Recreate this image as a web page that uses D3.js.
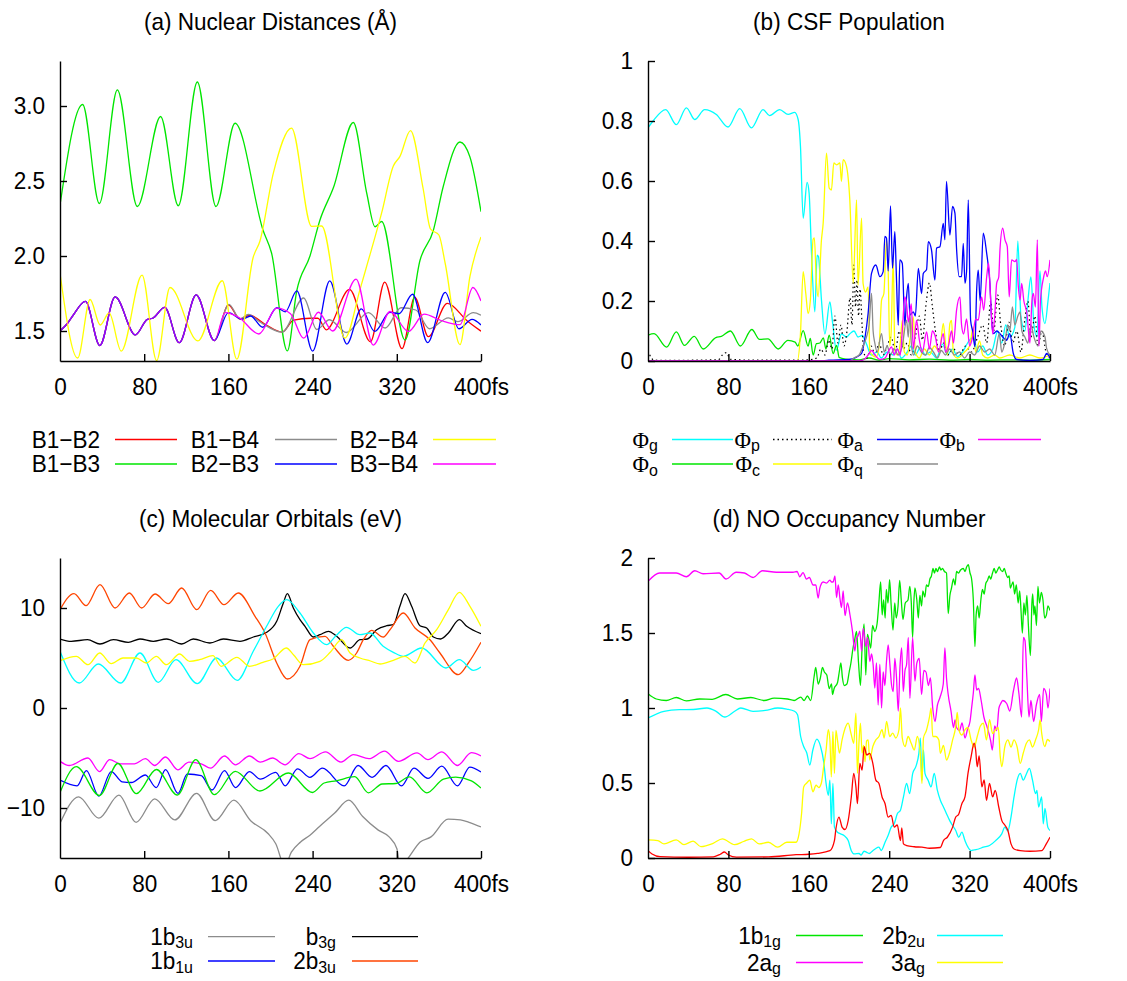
<!DOCTYPE html>
<html>
<head>
<meta charset="utf-8">
<script src="https://cdn.jsdelivr.net/npm/d3@7"></script>
<style>
  html, body { margin: 0; padding: 0; background: #ffffff; }
  svg { display: block; }
  text { font-family: "Liberation Sans", Arial, Helvetica, sans-serif; fill: #000; }
</style>
</head>
<body>
<script>
// ---------- shared axis data ----------
const timeTicks = [0, 80, 160, 240, 320, 400];

// ---------- (a) Nuclear distances, Angstrom ----------
const distTicks = [1.5, 2.0, 2.5, 3.0];
// B1-B2, B1-B4, B2-B3 and B3-B4 coincide during the first ~150 fs
const distCommon = [[0,1.5],[7,1.55],[12,1.6],[24.2,1.697],[37.8,1.403],[52.4,1.727],[71.6,1.474],[83,1.578],[88,1.585],[99.5,1.657],[113.3,1.422],[129.4,1.741],[146.6,1.436]];
const b1b2 = distCommon.concat([[160,1.675],[171,1.58],[180,1.605],[196,1.54],[211,1.493],[222,1.572],[238,1.585],[245,1.585],[253,1.508],[275,1.777],[295,1.428],[308.5,1.826],[325,1.382],[337,1.725],[350,1.462],[368,1.684],[387,1.567],[400,1.499]]);
const b1b4 = distCommon.concat([[160.5,1.678],[171,1.58],[179,1.61],[190,1.56],[211,1.492],[231.5,1.72],[244,1.51],[256,1.575],[272,1.49],[293,1.622],[309,1.52],[324,1.655],[338,1.64],[351,1.515],[369,1.587],[378,1.562],[392.7,1.622],[400,1.605]]);
const b2b3 = distCommon.concat([[160,1.622],[173,1.578],[181,1.6],[192.6,1.525],[206,1.655],[214,1.628],[225,1.767],[240,1.366],[256.3,1.834],[272.5,1.413],[286.3,1.648],[299,1.497],[313.5,1.625],[322,1.615],[335,1.745],[349.3,1.422],[366,1.757],[379,1.515],[391.5,1.578],[400,1.54]]);
const b3b4 = distCommon.concat([[157,1.622],[170,1.59],[189,1.48],[206,1.652],[219,1.615],[231.5,1.452],[245.5,1.625],[259,1.5],[281.3,1.846],[297.7,1.406],[313.7,1.63],[331,1.497],[346,1.612],[362,1.57],[380,1.542],[392.3,1.79],[400,1.7]]);
const b1b3 = [[0,2.34],[21.5,3.01],[37.4,2.35],[54.5,3.107],[73.5,2.33],[95.6,2.93],[112.4,2.335],[130.5,3.16],[148.2,2.33],[166.3,2.885],[193,2.17],[201,2.02],[216,1.367],[225,1.77],[237.5,2.0],[247,2.24],[260,2.46],[278.7,2.89],[291.4,2.42],[299.3,2.195],[305.6,2.23],[327.8,1.44],[342,1.97],[354.7,2.17],[364,2.46],[380,2.76],[389.5,2.66],[400,2.295]];
const b2b4 = [[0,1.885],[16.8,1.32],[28.6,1.71],[38.2,1.54],[46.7,1.62],[58.2,1.366],[78,1.873],[91.8,1.303],[104.5,1.79],[131,1.434],[154.2,1.835],[168,1.312],[183.5,1.99],[190,2.1],[202.7,2.553],[220,2.853],[239,2.198],[248.6,2.2],[270.7,1.453],[285,1.776],[291.3,1.93],[305.6,2.287],[316.7,2.6],[323,2.664],[333,2.836],[345,2.45],[352,2.18],[360,2.14],[366,1.95],[380,1.409],[389.5,1.864],[400,2.127]];

// ---------- (b) CSF population ----------
const popTicks = [0, 0.2, 0.4, 0.6, 0.8, 1];
const phiG = [[0,0.777],[5,0.8],[17.6,0.838],[28.2,0.788],[38.2,0.844],[46.5,0.805],[56.4,0.838],[68,0.822],[79.7,0.78],[91.3,0.841],[102.9,0.777],[114.5,0.838],[121,0.818],[131,0.838],[139.4,0.822],[146,0.829],[149.4,0.805],[151.7,0.716],[154.4,0.476],[158.3,0.595],[160.3,0.56],[162.7,0.36],[166,0.164],[168.3,0.353],[169.6,0.348],[172.6,0.203],[176,0.09],[181,0.197],[183.6,0.13],[187.5,0.036],[192.5,0.09],[197.5,0.08],[200.6,0.09],[205,0.1],[209,0.08],[213,0.085],[217.5,0.056],[222,0.02],[228,0.03],[232,0.01],[238,0.03],[244,0.02],[248,0.04],[252,0.01],[258,0.03],[262,0.05],[266,0.02],[271,0.045],[276,0.02],[281,0.03],[287,0.01],[293,0.056],[298,0.02],[303,0.04],[308,0.015],[313,0.03],[318,0.06],[323.7,0.08],[328,0.03],[333,0.05],[338,0.02],[343,0.04],[348,0.1],[352,0.06],[356,0.12],[360,0.08],[365,0.112],[368,0.4],[371,0.15],[375,0.1],[378,0.2],[381,0.28],[384,0.12],[387,0.08],[390,0.3],[392,0.18],[395,0.125],[398,0.2],[400,0.26]];
const phiO = [[0,0.086],[6,0.091],[18.5,0.046],[28.2,0.097],[36.3,0.052],[46,0.082],[55,0.04],[67.5,0.078],[73,0.082],[82,0.1],[92,0.05],[103.3,0.105],[111,0.072],[119.3,0.074],[129.6,0.04],[139.2,0.069],[146.4,0.063],[149,0.05],[154.4,0.101],[159.3,0.05],[161.5,0.075],[164.3,0.02],[167.6,0.058],[171,0.06],[174.5,0.077],[177,0.04],[180.3,0.086],[184.2,0.025],[187.6,0.052],[190.2,0.012],[194,0.008],[200,0.005],[210,0.004],[220,0.01],[230,0.003],[240,0.008],[260,0.004],[280,0.006],[300,0.003],[320,0.005],[340,0.003],[360,0.004],[380,0.003],[400,0.005]];
const phiP = [[0,0.035],[3,0.012],[6,0.003],[20,0.002],[50,0.003],[70,0.004],[74,0.02],[78,0.028],[82,0.006],[100,0.003],[150,0.003],[160,0.004],[168,0.01],[172,0.04],[176,0.02],[180,0.07],[183,0.04],[186,0.15],[189,0.06],[192,0.12],[195,0.05],[198,0.1],[201,0.21],[203,0.12],[204.8,0.32],[206.5,0.18],[208,0.27],[209.5,0.15],[211,0.24],[213,0.12],[214.5,0.03],[218,0.01],[222,0.05],[226,0.02],[230,0.06],[234,0.02],[238,0.05],[242,0.08],[246,0.03],[250,0.1],[254,0.04],[258,0.06],[262,0.02],[266,0.08],[270,0.15],[273,0.07],[277,0.2],[280,0.26],[283,0.18],[286,0.1],[290,0.03],[294,0.06],[298,0.02],[304,0.04],[310,0.02],[316,0.05],[322,0.03],[328,0.08],[333,0.12],[337,0.06],[341,0.2],[344,0.1],[348,0.22],[351,0.12],[355,0.05],[359,0.13],[363,0.06],[367,0.1],[371,0.03],[375,0.14],[378,0.2],[381,0.08],[385,0.15],[388,0.05],[392,0.1],[396,0.03],[400,0.01]];
const phiC = [[0,0],[148.4,0],[151.7,0.091],[154.4,0.298],[157,0.225],[159.3,0.158],[161.5,0.2],[164.3,0.406],[165.5,0.41],[167.6,0.259],[169.3,0.214],[172.6,0.404],[174.3,0.459],[177.6,0.693],[180.3,0.576],[182.5,0.57],[184.9,0.66],[187.6,0.654],[190.9,0.66],[192.5,0.599],[194.2,0.671],[197.5,0.649],[200.8,0.537],[204.2,0.259],[207.5,0.537],[209,0.253],[212.5,0.476],[214,0.259],[216.5,0.23],[219,0.247],[220.7,0.036],[223,0.02],[227,0.013],[230,0.05],[232.4,0.203],[234.7,0.225],[237.3,0.404],[239,0.3],[240.5,0.05],[242,0.1],[244,0.337],[245.6,0.036],[248,0.02],[251,0.06],[253,0.135],[255,0.03],[258,0.02],[261,0.08],[264,0.147],[266,0.03],[270,0.01],[275,0.04],[280,0.02],[285,0.05],[290,0.03],[293.8,0.125],[296,0.06],[298,0.02],[300.4,0.125],[302,0.135],[304,0.02],[308,0.01],[315,0.03],[320,0.05],[323.7,0.114],[326,0.03],[330,0.067],[333,0.02],[338,0.01],[345,0.02],[350,0.01],[360,0.02],[370,0.01],[380,0.02],[390,0.01],[400,0.02]];
const phiA = [[0,0],[170,0],[180,0.003],[200,0.005],[207.5,0.013],[212.5,0.025],[216,0.08],[219,0.158],[222.4,0.292],[226.7,0.32],[230.7,0.281],[234,0.298],[235.7,0.415],[237.3,0.41],[239,0.3],[241.3,0.517],[243.3,0.309],[245.6,0.431],[247,0.3],[249,0.119],[250.6,0.337],[253,0.326],[255.6,0.119],[257.3,0.214],[259,0.259],[260.6,0.153],[264,0.164],[266,0.15],[269,0.309],[272.2,0.225],[273.9,0.292],[277.2,0.305],[278.9,0.398],[282,0.372],[285.5,0.27],[287.1,0.376],[290.5,0.381],[293.8,0.459],[295.4,0.404],[297,0.599],[300.4,0.42],[303,0.515],[305.4,0.493],[307,0.376],[309.7,0.281],[312,0.281],[313.7,0.392],[315.4,0.259],[317,0.3],[318.7,0.537],[321,0.136],[323,0.1],[325.3,0.047],[327,0.236],[328.6,0.303],[330.5,0.2],[333.6,0.426],[337,0.359],[338.5,0.32],[340.2,0.259],[341.9,0.136],[343.6,0.091],[347,0.1],[350.2,0.091],[353,0.08],[356.8,0.069],[360,0.091],[363.5,0.025],[366.8,0.005],[380,0.002],[393,0.005],[396.7,0.025],[400,0.01]];
const phiQ = [[0,0],[200,0],[205,0.01],[210,0.02],[214,0.05],[217.4,0.08],[220,0.12],[222.4,0.225],[224,0.1],[225.7,0.06],[228,0.03],[232.4,0.091],[235,0.03],[238,0.05],[241,0.02],[245,0.04],[249,0.02],[253,0.05],[257.3,0.136],[259,0.08],[260.6,0.158],[262,0.06],[264,0.02],[268,0.05],[272,0.03],[276,0.02],[280,0.045],[284,0.03],[288,0.01],[292,0.035],[296,0.02],[300,0.04],[305,0.02],[310,0.03],[315,0.01],[320,0.03],[325,0.02],[330,0.05],[335,0.03],[340,0.04],[345,0.02],[349.6,0.091],[352,0.03],[355,0.06],[358,0.12],[360,0.1],[362.6,0.18],[365,0.12],[368,0.15],[370.2,0.164],[372,0.1],[375,0.08],[378,0.06],[381,0.12],[384,0.08],[388,0.05],[391,0.1],[395,0.08],[396.7,0.041],[400,0.02]];
const phiB = [[0,0],[210,0],[215,0.005],[219,0.02],[222.4,0.035],[226,0.02],[230.7,0.005],[236,0.01],[239,0.03],[242.3,0.047],[245,0.02],[248,0.04],[251,0.02],[253,0.1],[255.6,0.214],[257.3,0.19],[259,0.13],[262,0.19],[264,0.04],[267.2,0.136],[270,0.07],[273,0.03],[277.2,0.097],[280,0.04],[283,0.1],[286,0.08],[289,0.03],[293.8,0.091],[296,0.03],[299,0.05],[302,0.1],[304,0.06],[307,0.169],[310.4,0.214],[312,0.12],[314,0.09],[317,0.14],[320,0.05],[323,0.08],[326,0.14],[328.6,0.136],[332,0.214],[334,0.17],[337,0.281],[338.9,0.326],[341,0.2],[343,0.09],[345,0.15],[346.9,0.259],[349,0.28],[350.2,0.37],[352.9,0.443],[355.2,0.404],[357.5,0.381],[359.4,0.214],[361.8,0.337],[365.1,0.331],[366.8,0.339],[368.5,0.247],[370.2,0.203],[371.8,0.259],[374,0.2],[377,0.16],[380,0.06],[382,0.2],[383.4,0.225],[385.5,0.18],[387.4,0.404],[389,0.05],[390.5,0.2],[393.4,0.275],[395.5,0.3],[397.3,0.281],[400,0.337]];

// ---------- (c) Molecular orbital energies, eV ----------
const moTicks = [-10, 0, 10];
const mo1b3u = [[0,-11.53],[17.7,-8.88],[36.9,-11.02],[56,-8.71],[72.3,-11.43],[90,-9.08],[109.1,-11.19],[129.8,-8.54],[147.5,-11.26],[165.2,-9.22],[181.4,-11.3],[197.6,-12.55],[205,-13.57],[213.6,-15.8],[219.8,-14.42],[228.6,-13.4],[237.5,-12.72],[246.3,-11.87],[261,-10.51],[274.3,-9.22],[287.6,-10.85],[302.4,-12.21],[312.7,-12.89],[320.1,-14.08],[323.5,-16],[330.9,-15],[342.2,-13.4],[352.5,-12.89],[368.7,-11.12],[380.5,-11.19],[389.4,-11.46],[400,-11.9]];
const mo1b1u = [[0,-7.21],[16.2,-7.79],[25.1,-6.26],[36.9,-8.81],[48.7,-6.36],[59,-7.38],[67.8,-7.45],[81.1,-6.7],[91.4,-7.96],[100.3,-6.16],[112.1,-8.54],[121,-6.6],[134.2,-6.77],[144.5,-8.2],[156.3,-6.26],[166.7,-7.96],[180,-6.36],[190.3,-7.11],[205,-6.43],[213.9,-7.79],[225.7,-6.09],[237.5,-6.94],[249.3,-6.02],[270,-7.79],[283.2,-5.75],[296.5,-6.94],[309.7,-5.75],[324.5,-7.79],[336.3,-6.02],[349.6,-7.04],[362.8,-5.82],[377.6,-7.79],[389.4,-5.92],[400,-6.4]];
const moB3g = [[0,6.9],[10.7,6.67],[26.2,6.83],[38,6.4],[50.7,6.83],[64.9,6.57],[76,6.9],[88.6,6.67],[101.3,6.9],[115.6,6.4],[126.7,6.9],[142.5,6.5],[155.2,6.9],[171,6.67],[183.7,7.1],[196.4,7.57],[205.9,8.67],[212.2,10.5],[216,11.43],[221.7,10],[228,8.83],[232.8,8.17],[240.7,7.1],[247,7.33],[255,7.67],[262.9,7.17],[275.6,6],[285,6.83],[292,6.9],[300.8,7.83],[310.3,8.23],[316.7,8.33],[323,10.2],[327.8,11.43],[334.1,10.17],[342,8.23],[348.4,8],[354.7,7.1],[361.6,6.9],[369,7.5],[379.4,8.83],[386.4,8.17],[400,7.43]];
const mo2b3u = [[0,9.83],[13.3,11.43],[24.7,10.23],[38,12.33],[52.3,10],[65.9,11.5],[77.6,10],[90.3,11.4],[102.9,10.43],[115.6,12],[129.9,9.83],[143.2,11.76],[155.8,10.33],[169.4,11.5],[185.3,9.17],[194.8,7.5],[205.9,4.5],[216,2.9],[228,4.17],[237.5,6.83],[251.8,7.17],[259.7,6.17],[273.9,4.77],[281.8,5.5],[288.2,6.83],[296.1,7.77],[307.2,7.1],[313.5,7.83],[326.2,9.5],[337.3,8],[351.5,6.83],[361,5.5],[378.4,3.33],[388,4.5],[400,6.57]];
const moCyan = [[0,5.67],[18.3,2.5],[36.4,4.4],[57.6,2.5],[76,5.5],[93.4,2.57],[110.2,4.83],[130.4,2.43],[148.8,5],[168.4,2.77],[183.6,5.67],[196.3,8.17],[207.4,10.17],[215.3,10.83],[228,9.5],[240.7,7.5],[253.4,6.33],[262,7.2],[272.2,8.07],[284.9,7.33],[294.4,7.5],[307,6.17],[316.7,5.57],[326.2,5.17],[343.6,6],[366.7,4],[379.4,4.83],[392.7,3.77],[400,4.1]];
const moYellow = [[0,4.73],[15.5,5.17],[26.6,4.33],[37.7,5.5],[48.8,4.43],[59.8,5],[72.5,5],[82,4.5],[91.5,5.17],[101,4.33],[113.6,5.4],[123.1,4.67],[132.6,4.83],[145.3,5.23],[153.2,4.17],[168.1,5.07],[180.1,4.17],[192.8,4.57],[202.3,4.9],[215,6],[222,5.3],[231.2,4.33],[247,4.67],[257,5.6],[267.6,6.83],[275.6,5.5],[285,5],[295,4.7],[304.1,4.4],[316.7,4.77],[327.8,5.17],[337.3,4.5],[346.8,6.5],[357.9,7.83],[369,9.83],[379.4,11.57],[389.5,10.17],[400,8.17]];
const moMagenta = [[0,-5.34],[8.8,-5.75],[26.5,-5],[37.5,-6.36],[47.2,-5.17],[57.5,-5.58],[70.8,-5.58],[81.1,-5.07],[90,-5.75],[100.3,-4.9],[112,-6.19],[122.4,-5.41],[134.2,-5.58],[143,-6.02],[156.3,-4.8],[166.7,-5.68],[180,-4.8],[190.3,-5.41],[202,-5],[213.9,-5.68],[227,-4.56],[237.5,-5.07],[252.2,-4.39],[267,-5.41],[278.8,-4.66],[293.5,-5.07],[308.3,-4.32],[321.5,-5.34],[339.2,-4.49],[349.6,-5.17],[362.8,-4.39],[377.6,-5.75],[390.9,-4.46],[400,-4.8]];
const moGreen = [[0,-8.45],[15.5,-5.87],[37.5,-8.75],[55,-5.55],[72.5,-8.57],[91.6,-6.15],[111.5,-8.7],[129,-5.17],[146.7,-8.67],[166.5,-6.33],[190,-8.3],[217,-6.5],[239.8,-8.45],[251,-7.5],[262.5,-7.28],[280,-6.87],[293,-8.48],[306,-7.6],[319,-7.55],[332,-6.88],[348.6,-8.48],[364.3,-7.11],[376,-6.92],[390.9,-7.28],[400,-8]];

// ---------- (d) Natural orbital occupancy ----------
const occTicks = [0, 0.5, 1, 1.5, 2];
const no1b1g = [[0,1.095],[8.3,1.06],[18.2,1.05],[28.2,1.07],[38.2,1.047],[51.4,1.06],[64,1.058],[77.4,1.09],[89,1.06],[102.3,1.07],[115.6,1.05],[125.5,1.066],[138.8,1.06],[145.4,1.05],[152,1.073],[155.3,1.05],[158.6,1.08],[161.9,1.05],[165.3,1.21],[166.9,1.27],[169.3,1.16],[171.5,1.2],[173.6,1.27],[175.5,1.24],[177.9,1.22],[180.3,1.13],[182.6,1.16],[183.6,1.09],[185.2,1.13],[188.6,1.17],[190.3,1.24],[191.9,1.3],[193.5,1.2],[195.2,1.15],[197.9,1.16],[200.2,1.24],[201.9,1.3],[204,1.4],[205.5,1.45],[207.5,1.51],[209.5,1.3],[211.4,1.15],[213,1.4],[215,1.56],[216.7,1.22],[218.3,1.49],[220,1.45],[221.6,1.4],[223.5,1.55],[225.6,1.51],[227.9,1.56],[229.6,1.69],[231.5,1.84],[233,1.62],[234.4,1.72],[236,1.6],[237.1,1.79],[238.8,1.7],[240.4,1.855],[242,1.68],[243.8,1.52],[245.5,1.7],[247,1.6],[248.8,1.68],[250.4,1.85],[252,1.72],[253.7,1.59],[256,1.7],[258.7,1.72],[260.5,1.81],[262,1.7],[263.3,1.47],[264.5,1.7],[265.6,1.8],[267.5,1.72],[269,1.6],[270.5,1.75],[272.2,1.68],[273.5,1.78],[275.5,1.74],[277,1.82],[278.9,1.81],[280.5,1.86],[282,1.88],[283.6,1.93],[285,1.9],[286.5,1.93],[288,1.91],[290,1.94],[291.5,1.92],[293,1.93],[295,1.91],[297,1.9],[298.7,1.63],[300.4,1.75],[302,1.8],[304,1.86],[305.5,1.82],[307,1.91],[309,1.9],[311,1.92],[313.7,1.93],[315.5,1.91],[317,1.94],[318.7,1.955],[320.4,1.9],[322,1.86],[323.7,1.72],[325.3,1.41],[326.5,1.62],[328,1.68],[329.5,1.6],[331.2,1.72],[332.8,1.79],[334.5,1.76],[336.1,1.83],[337.8,1.85],[339.5,1.88],[341,1.86],[342.8,1.9],[344.5,1.93],[346,1.9],[347.8,1.92],[349.5,1.94],[351,1.92],[352.8,1.91],[354.5,1.93],[356,1.9],[357.8,1.87],[359.4,1.88],[360.5,1.8],[361.8,1.82],[363.3,1.84],[364.8,1.76],[366.5,1.82],[368.3,1.7],[369.8,1.78],[371,1.67],[372.5,1.5],[374,1.7],[375.5,1.62],[377,1.75],[378.5,1.55],[380.5,1.35],[382,1.7],[382.8,1.76],[384,1.62],[385,1.68],[386.5,1.55],[388,1.81],[389.5,1.7],[391.4,1.77],[393,1.72],[394.7,1.6],[396.4,1.62],[398,1.68],[400,1.65]];
const no2ag = [[0,1.844],[11.6,1.9],[28.2,1.9],[38.2,1.875],[46.5,1.915],[54.8,1.895],[70.8,1.9],[77.7,1.86],[87.7,1.905],[96,1.9],[104.5,1.87],[113.8,1.915],[127.7,1.905],[144.3,1.905],[148.3,1.91],[151,1.875],[154.3,1.903],[157.6,1.86],[160.5,1.87],[164.3,1.82],[167,1.82],[169.3,1.733],[171,1.8],[174.3,1.84],[177.6,1.833],[181,1.853],[182.5,1.84],[184.2,1.84],[186,1.88],[187.6,1.736],[189.3,1.82],[191,1.73],[192.5,1.67],[194.2,1.78],[196,1.616],[198.5,1.7],[201,1.62],[203.5,1.509],[205.8,1.38],[207.5,1.467],[209,1.48],[210.8,1.513],[212.5,1.38],[214.2,1.53],[216.8,1.41],[218.5,1.47],[220.7,1.31],[222.5,1.36],[224,1.29],[225.7,1.133],[227.3,1.3],[229,1.02],[230.7,1.29],[232.4,1.0],[234,1.24],[235.7,1.15],[237.3,1.31],[239,1.42],[240.7,1.29],[242.4,1.15],[244,1.11],[245.6,1.33],[247.3,1.2],[249,0.98],[250.7,1.27],[252.4,1.4],[254,1.11],[255.7,1.25],[257.3,1.29],[259,1.47],[260.6,1.065],[263.3,1.47],[265.6,1.18],[267.5,1.3],[269.9,1.33],[272.2,1.09],[274.5,1.25],[276.6,1.24],[279,1.15],[281,1.2],[283.3,1.0],[285.6,0.91],[288,1.02],[290.5,1.07],[293.8,1.16],[295.4,1.4],[297,1.2],[298.7,1.09],[301.5,0.98],[304,0.87],[305.5,0.92],[307,0.87],[310,0.85],[312.5,0.9],[315.4,0.8],[318,0.86],[320.4,0.91],[322,1.0],[323.7,1.1],[325.3,1.22],[327,1.12],[328.9,1.13],[331.5,1.05],[334.2,0.94],[337.6,0.87],[341,0.78],[342.6,0.72],[345,0.88],[347,0.85],[349.2,1.0],[351,1.03],[353,1.05],[356.9,1.03],[360,0.98],[363.5,1.11],[366.8,1.2],[369,1.1],[371.8,0.94],[373.5,1.47],[375.1,1.45],[377,1.2],[379.1,0.94],[381,1.05],[383.7,0.91],[386.4,1.02],[389.7,1.09],[391.4,0.91],[393.7,1.13],[396.4,1.09],[398,1.0],[400,1.13]];
const no2b2u = [[0,0.933],[15.9,0.978],[31.2,0.989],[45,0.99],[58.7,1.0],[67.8,0.978],[76.4,0.94],[86.2,0.978],[92.3,1.0],[104.5,0.978],[116.7,0.984],[129,1.0],[138,0.993],[145.8,0.978],[148.8,0.955],[151.9,0.81],[154.9,0.743],[158,0.7],[161,0.62],[164,0.72],[168,0.792],[171.7,0.743],[174.8,0.642],[177.2,0.497],[179.4,0.418],[181,0.519],[182.4,0.228],[184,0.497],[185.5,0.206],[188.5,0.172],[191.6,0.161],[195,0.15],[199.2,0.116],[202.3,0.049],[205.3,0.027],[210,0.03],[212,0.02],[215,0.045],[217.6,0.038],[220,0.03],[223.7,0.049],[226,0.06],[229.8,0.072],[232,0.05],[235.9,0.105],[238.9,0.15],[242,0.206],[245,0.228],[248.1,0.295],[251.2,0.318],[254.2,0.407],[257.3,0.497],[260.3,0.43],[263.4,0.564],[266.5,0.609],[269.5,0.698],[271,0.799],[272.6,0.519],[274.1,0.72],[275.6,0.564],[278.7,0.519],[281.7,0.474],[284.8,0.564],[287.9,0.452],[290.9,0.385],[294,0.34],[297,0.295],[300.1,0.251],[303.1,0.217],[306.2,0.183],[309.2,0.139],[312.3,0.172],[315.4,0.116],[318.4,0.072],[321.5,0.049],[324.5,0.054],[329,0.06],[333.7,0.072],[339.8,0.083],[345.9,0.116],[352,0.161],[355.1,0.206],[358,0.18],[361.2,0.273],[364.2,0.407],[367.3,0.519],[370.4,0.564],[373.4,0.519],[376.5,0.56],[379.5,0.597],[382.6,0.519],[385.6,0.43],[387,0.45],[388.7,0.34],[391.7,0.407],[393.3,0.228],[395,0.33],[397.8,0.206],[400,0.183]];
const no3ag = [[0,0.121],[9.8,0.116],[15.9,0.094],[28.1,0.121],[35.8,0.089],[44.9,0.112],[52.6,0.076],[64.8,0.098],[74,0.128],[86.2,0.089],[95,0.11],[103,0.128],[110.6,0.094],[119.8,0.105],[129,0.072],[138.1,0.105],[147.3,0.105],[150.3,0.161],[152.8,0.295],[154.9,0.474],[158,0.5],[161,0.519],[164.1,0.441],[167.2,0.485],[170,0.47],[172.5,0.5],[174.8,0.609],[177.2,0.72],[179.4,0.855],[181,0.787],[182.4,0.541],[184,0.843],[185.5,0.564],[187,0.85],[188.5,0.787],[190.5,0.7],[193.1,0.787],[196.2,0.866],[199.2,0.899],[202,0.83],[204.7,0.765],[206.9,0.966],[208.4,0.564],[210,0.78],[211.4,0.899],[213,0.7],[214.5,0.75],[216,0.642],[217.5,0.78],[219.1,0.787],[220.6,0.653],[223.7,0.743],[226.7,0.787],[229.8,0.81],[232.9,0.855],[235,0.8],[237.4,0.91],[240.5,0.81],[243.5,0.832],[246.5,0.8],[249.7,0.855],[251.2,1.0],[253,0.8],[255.8,0.743],[258.8,0.81],[261.9,0.765],[265,0.72],[268,0.81],[271,0.687],[272.6,0.497],[274.1,0.8],[277,0.85],[280.2,0.944],[281.7,1.0],[283.3,0.81],[286.4,0.81],[289.4,0.787],[290.9,0.698],[294,0.75],[297,0.653],[300,0.7],[303.1,0.787],[306.2,0.877],[307.7,0.97],[309.5,0.85],[312.3,0.82],[315.4,0.855],[318.4,0.87],[321.5,0.787],[324.5,0.74],[327.6,0.81],[330.7,0.88],[333.7,0.899],[336.8,0.787],[339.8,0.922],[342.9,0.83],[345.9,0.855],[348.5,0.87],[350.5,0.676],[352,0.609],[355,0.74],[358.1,0.787],[361.2,0.74],[364.2,0.787],[367.3,0.74],[370.4,0.631],[373.4,0.7],[376.5,0.765],[379.5,0.787],[382.6,0.74],[385.6,0.787],[388.7,0.855],[390.2,0.92],[391.7,0.832],[394.8,0.743],[397.5,0.79],[400,0.776]];
const noRed = [[0,0.049],[4,0.027],[12,0.009],[40,0.005],[65,0.008],[72,0.025],[76,0.04],[80,0.02],[88,0.006],[120,0.007],[147.3,0.022],[160,0.025],[168.7,0.031],[181,0.049],[185.5,0.116],[187,0.195],[190,0.273],[193.1,0.206],[196,0.19],[199.2,0.25],[202.3,0.407],[204.7,0.564],[206.9,0.474],[208.4,0.362],[210.8,0.631],[213,0.586],[215.1,0.743],[217.6,0.687],[220.6,0.698],[223.7,0.631],[226.7,0.519],[229.8,0.497],[232.9,0.407],[235.9,0.362],[238.9,0.273],[242,0.284],[245,0.206],[248,0.22],[251.2,0.116],[252.5,0.2],[254.2,0.094],[257.3,0.083],[265,0.075],[272.6,0.072],[280,0.065],[290.9,0.07],[294,0.116],[298,0.14],[303.1,0.206],[306.2,0.273],[309,0.29],[312.3,0.362],[315.4,0.407],[318.4,0.564],[321.5,0.676],[324.5,0.765],[326,0.72],[327.6,0.608],[329.5,0.68],[332.2,0.474],[334.5,0.52],[336.8,0.385],[339.8,0.497],[342.9,0.407],[345.5,0.45],[349,0.34],[352,0.251],[355,0.22],[358.1,0.183],[361.2,0.094],[364.2,0.06],[370.4,0.049],[380,0.045],[391.7,0.049],[396.3,0.094],[400,0.139]];

// ---------- drawing ----------
const W = 1127, H = 981;
const FONT = 24, SUB = 17, SUBSHIFT = 3.5, SQUEEZE = 0.94;
const svg = d3.select("body").append("svg").attr("width", W).attr("height", H);
svg.append("rect").attr("width", W).attr("height", H).attr("fill", "#fff");

const C = {
  red: "#ff0000", green: "#00e600", gray: "#8c8c8c", blue: "#0000ff",
  yellow: "#ffff00", magenta: "#ff00ff", cyan: "#00ffff", black: "#000000", orange: "#ff4500"
};

// narrow the glyphs horizontally around the text's own x position
function squeeze(sel) {
  sel.each(function () {
    const x = +this.getAttribute("x") || 0;
    this.setAttribute("transform", `translate(${x},0) scale(${SQUEEZE},1) translate(${-x},0)`);
  });
}

// label with optional subscript: parts = [{t, sub, serif}]
function richText(g, x, y, parts, anchor) {
  const t = g.append("text").attr("x", x).attr("y", y).attr("text-anchor", anchor || "end")
    .attr("font-size", FONT);
  let shifted = false;
  parts.forEach(p => {
    const s = t.append("tspan").text(p.t);
    if (p.serif) s.style("font-family", "'Liberation Serif', 'Times New Roman', serif");
    if (p.sub && !shifted) { s.attr("font-size", SUB).attr("dy", SUBSHIFT); shifted = true; }
    else if (p.sub) { s.attr("font-size", SUB); }
    else if (shifted) { s.attr("dy", -SUBSHIFT); shifted = false; }
  });
  squeeze(t);
  return t;
}

let clipId = 0;
function clipRect(x0, x1, y0, y1) {
  const id = "clip" + (clipId++);
  svg.append("clipPath").attr("id", id).append("rect")
    .attr("x", x0).attr("y", y0).attr("width", x1 - x0).attr("height", y1 - y0);
  return `url(#${id})`;
}

function panel(cfg) {
  const x = d3.scaleLinear().domain([0, 400]).range([cfg.x0, cfg.x1]);
  const y = d3.scaleLinear().domain(cfg.yDomain).range([cfg.y1, cfg.y0]);
  const g = svg.append("g");

  const title = g.append("text").attr("x", (cfg.x0 + cfg.x1) / 2).attr("y", cfg.y0 - 30.5)
    .attr("text-anchor", "middle").attr("font-size", FONT).text(cfg.title);
  squeeze(title);

  const line = d3.line().x(d => x(d[0])).y(d => y(d[1])).curve(d3.curveMonotoneX);
  const lines = g.append("g").attr("clip-path", clipRect(cfg.x0, cfg.x1, cfg.y0, cfg.y1));
  cfg.series.forEach(s => {
    const draw = (parent, opacity) => parent.append("path").datum(s.data).attr("d", line)
      .attr("fill", "none").attr("stroke", s.color).attr("stroke-width", s.width || 1.3)
      .attr("stroke-opacity", opacity).attr("stroke-dasharray", s.dash || null)
      .attr("stroke-linejoin", "round");
    if (s.sharedUntil) {
      // while the traces coincide, let the lower ones show through
      const xs = x(s.sharedUntil);
      draw(lines.append("g").attr("clip-path", clipRect(cfg.x0 - 2, xs, cfg.y0, cfg.y1)), 0.6);
      draw(lines.append("g").attr("clip-path", clipRect(xs, cfg.x1 + 2, cfg.y0, cfg.y1)), 1);
    } else {
      draw(lines, 1);
    }
  });

  const xAxis = d3.axisBottom(x).tickValues(timeTicks).tickSize(-7).tickSizeOuter(0).tickPadding(17)
    .tickFormat(d => d === 400 ? "400fs" : String(d));
  const yAxis = d3.axisLeft(y).tickValues(cfg.yTicks).tickSize(-7).tickSizeOuter(0).tickPadding(15)
    .tickFormat(cfg.yFormat);
  const gx = g.append("g").attr("transform", `translate(0,${cfg.y1})`).call(xAxis);
  const gy = g.append("g").attr("transform", `translate(${cfg.x0},0)`).call(yAxis);
  [gx, gy].forEach(a => {
    a.attr("font-family", null).attr("font-size", null);
    a.selectAll("path,line").attr("stroke", "#000").attr("stroke-width", 1.4);
    a.selectAll("text").attr("font-size", FONT).attr("fill", "#000").call(squeeze);
  });
  gx.selectAll(".tick").filter(d => d === 0).select("line").remove();

  // key: entries are placed column by column, two rows
  const kg = g.append("g");
  cfg.key.entries.forEach((e, i) => {
    const col = Math.floor(i / 2), row = i % 2;
    const ly = cfg.key.rows[row];
    const [lx0, lx1] = cfg.key.lines[col];
    richText(kg, cfg.key.textX[col], ly + 8.3, e.label, "end");
    kg.append("line").attr("x1", lx0).attr("x2", lx1).attr("y1", ly).attr("y2", ly)
      .attr("stroke", e.color).attr("stroke-width", 1.3).attr("stroke-dasharray", e.dash || null);
  });
}

const minus = "\u2212";
const phi = (s) => [{ t: "\u03A6", serif: true }, { t: s, sub: true }];

panel({
  title: "(a) Nuclear Distances (\u00C5)", x0: 60, x1: 481, y0: 61, y1: 361,
  yDomain: [1.3, 3.3], yTicks: distTicks, yFormat: d3.format(".1f"),
  series: [
    { data: b1b2, color: C.red }, { data: b1b3, color: C.green }, { data: b1b4, color: C.gray },
    { data: b2b3, color: C.blue }, { data: b2b4, color: C.yellow },
    { data: b3b4, color: C.magenta, sharedUntil: 150 }
  ],
  key: {
    rows: [439.5, 464], textX: [100, 259, 418], lines: [[115, 177], [275, 337], [433, 496]],
    entries: [
      { label: [{ t: "B1" + minus + "B2" }], color: C.red },
      { label: [{ t: "B1" + minus + "B3" }], color: C.green },
      { label: [{ t: "B1" + minus + "B4" }], color: C.gray },
      { label: [{ t: "B2" + minus + "B3" }], color: C.blue },
      { label: [{ t: "B2" + minus + "B4" }], color: C.yellow },
      { label: [{ t: "B3" + minus + "B4" }], color: C.magenta }
    ]
  }
});

panel({
  title: "(b) CSF Population", x0: 648, x1: 1050, y0: 61, y1: 361,
  yDomain: [0, 1], yTicks: popTicks, yFormat: d3.format("~g"),
  series: [
    { data: phiG, color: C.cyan }, { data: phiO, color: C.green },
    { data: phiP, color: C.black, dash: "1.5,3", width: 1.2 }, { data: phiC, color: C.yellow },
    { data: phiA, color: C.blue }, { data: phiQ, color: C.gray }, { data: phiB, color: C.magenta }
  ],
  key: {
    rows: [439.5, 464], textX: [658, 760, 863, 965], lines: [[672, 733], [773, 832], [877, 938], [978, 1041]],
    entries: [
      { label: phi("g"), color: C.cyan }, { label: phi("o"), color: C.green },
      { label: phi("p"), color: C.black, dash: "1.5,3" }, { label: phi("c"), color: C.yellow },
      { label: phi("a"), color: C.blue }, { label: phi("q"), color: C.gray },
      { label: phi("b"), color: C.magenta }
    ]
  }
});

panel({
  title: "(c) Molecular Orbitals (eV)", x0: 60, x1: 481, y0: 558, y1: 858,
  yDomain: [-15, 15], yTicks: moTicks, yFormat: d3.format("d"),
  series: [
    { data: mo1b3u, color: C.gray }, { data: mo1b1u, color: C.blue }, { data: moB3g, color: C.black },
    { data: mo2b3u, color: C.orange }, { data: moCyan, color: C.cyan }, { data: moYellow, color: C.yellow },
    { data: moMagenta, color: C.magenta }, { data: moGreen, color: C.green }
  ],
  key: {
    rows: [936.7, 961], textX: [193, 336], lines: [[208, 275], [352, 418]],
    entries: [
      { label: [{ t: "1b" }, { t: "3u", sub: true }], color: C.gray },
      { label: [{ t: "1b" }, { t: "1u", sub: true }], color: C.blue },
      { label: [{ t: "b" }, { t: "3g", sub: true }], color: C.black },
      { label: [{ t: "2b" }, { t: "3u", sub: true }], color: C.orange }
    ]
  }
});

panel({
  title: "(d) NO Occupancy Number", x0: 648, x1: 1050, y0: 558, y1: 858,
  yDomain: [0, 2], yTicks: occTicks, yFormat: d3.format("~g"),
  series: [
    { data: no1b1g, color: C.green }, { data: no2ag, color: C.magenta }, { data: no2b2u, color: C.cyan },
    { data: no3ag, color: C.yellow }, { data: noRed, color: C.red }
  ],
  key: {
    rows: [935.5, 962.5], textX: [781, 925], lines: [[796, 863], [937, 1003]],
    entries: [
      { label: [{ t: "1b" }, { t: "1g", sub: true }], color: C.green },
      { label: [{ t: "2a" }, { t: "g", sub: true }], color: C.magenta },
      { label: [{ t: "2b" }, { t: "2u", sub: true }], color: C.cyan },
      { label: [{ t: "3a" }, { t: "g", sub: true }], color: C.yellow }
    ]
  }
});
</script>
</body>
</html>
